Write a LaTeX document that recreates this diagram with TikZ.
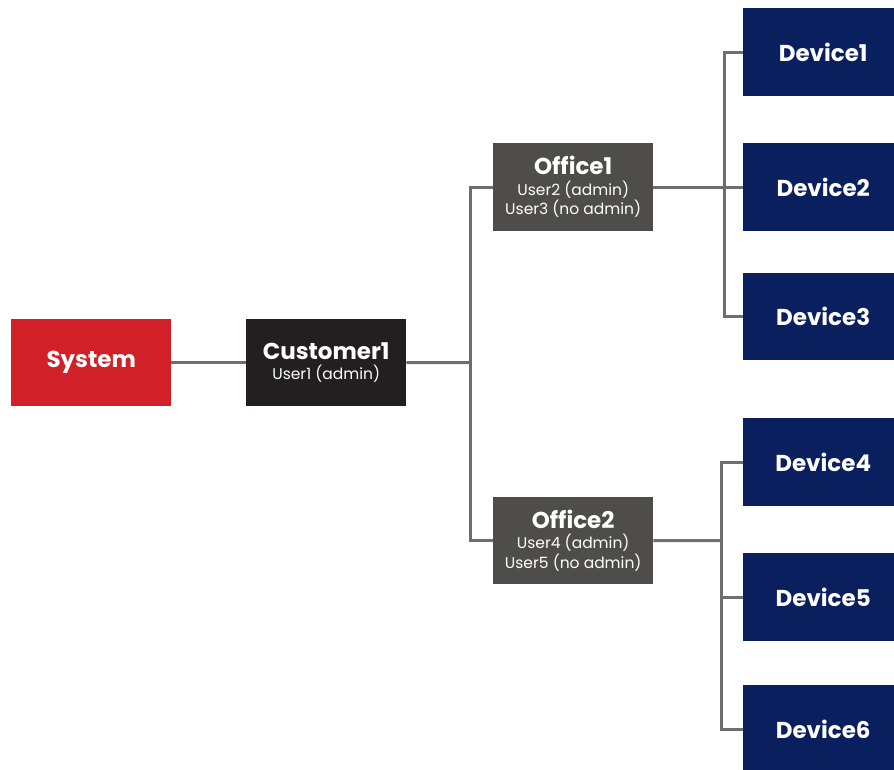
\documentclass[tikz,border=0pt]{standalone}
\usepackage{fontspec}
\setmainfont{Poppins}
\definecolor{sysred}{HTML}{D12027}
\definecolor{custblk}{HTML}{231F20}
\definecolor{offgray}{HTML}{4E4D4B}
\definecolor{devblue}{HTML}{0A1F5D}
\definecolor{linegray}{HTML}{6E6E70}
\tikzset{
  box/.style={draw=none, minimum width=160pt, minimum height=87pt, inner sep=0pt, align=center, text=white, anchor=north west, font=\fontsize{15.5}{19.5}\selectfont},
  conn/.style={draw=linegray, line width=3pt},
}
\newcommand{\ttl}[1]{{\fontsize{23}{24}\selectfont\bfseries #1}}
\begin{document}
\begin{tikzpicture}[x=1pt,y=1pt]
\useasboundingbox (0,0) rectangle (894,-770);
\begin{scope}
\clip (0,0) rectangle (894,-770);
\node[box, fill=sysred] (sys) at (11,-319) {\ttl{System}};
\node[box, fill=custblk] (cust) at (246,-319) {\ttl{Customer1}\\[1pt]User1 (admin)};
\node[box, fill=offgray, minimum height=88pt] (off1) at (493,-143) {\ttl{Office1}\\[1pt]User2 (admin)\\User3 (no admin)};
\node[box, fill=offgray] (off2) at (493,-497) {\ttl{Office2}\\[1pt]User4 (admin)\\User5 (no admin)};
\node[box, fill=devblue, minimum height=88pt] (d1) at (743,-8) {\ttl{Device1}};
\node[box, fill=devblue, minimum height=88pt] (d2) at (743,-143) {\ttl{Device2}};
\node[box, fill=devblue] (d3) at (743,-273) {\ttl{Device3}};
\node[box, fill=devblue, minimum height=88pt] (d4) at (743,-418) {\ttl{Device4}};
\node[box, fill=devblue, minimum height=88pt] (d5) at (743,-553) {\ttl{Device5}};
\node[box, fill=devblue, minimum height=88pt] (d6) at (743,-685) {\ttl{Device6}};
\end{scope}
\coordinate (b1) at (470,-362.5);
\coordinate (b2) at (724,-187);
\coordinate (b3) at (721,-540.5);
\path[conn] (sys.east) -- (cust.west);
\path[conn] (cust.east) -- (b1);
\path[conn] (b1) |- (off1.west);
\path[conn] (b1) |- (off2.west);
\path[conn] (off1.east) -- (d2.west);
\path[conn] (b2) |- (d1.west);
\path[conn] (b2) |- (d3.west);
\path[conn] (off2.east) -- (b3);
\path[conn] (b3) |- (d4.west);
\path[conn] (b3) |- (d5.west);
\path[conn] (b3) |- (d6.west);
\end{tikzpicture}
\end{document}
